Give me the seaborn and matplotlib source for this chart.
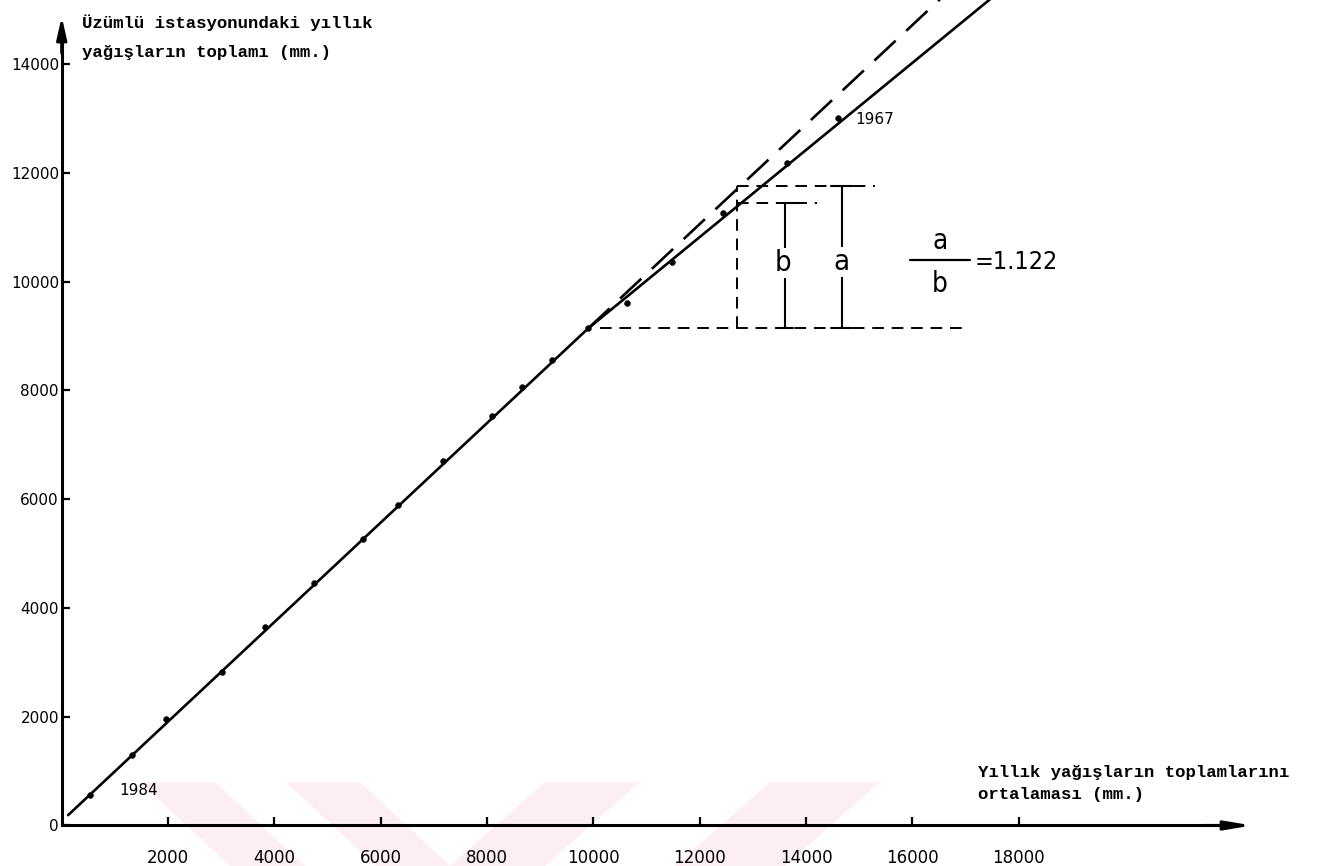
import matplotlib
matplotlib.use("Agg")
import matplotlib.pyplot as plt
import seaborn as sns
import pandas as pd
from matplotlib.patches import Polygon

# ---------------- data ----------------
years = list(range(1984, 1966, -1))  # 1984 ... 1967
x_mean_cum = [532, 1317, 1956, 3010, 3824, 4752, 5673, 6332, 7178, 8089,
              8653, 9217, 9906, 10634, 11475, 12445, 13638, 14609]
y_station_cum = [561, 1296, 1953, 2828, 3655, 4453, 5262, 5893, 6702, 7534,
                 8068, 8559, 9141, 9606, 10366, 11256, 12186, 13002]

# fitted lines (double-mass curve)
lower_x = [120, 9906]
lower_y = [190, 9141]
upper_x = [9906, 17600]
upper_y = [9141, 15300]
ext_x = [9906, 16640]
ext_y = [9141, 15300]

# construction for a/b
base_y = 9141
b_level = 11436
a_level = 11758
vert_x = 12698
base_x_range = [10130, 17030]
b_line_range = [12698, 14210]
a_line_range = [12698, 15300]
b_bar_x = 13606
a_bar_x = 14670
ratio_text = "=1.122"

xticks = [2000, 4000, 6000, 8000, 10000, 12000, 14000, 16000, 18000]
yticks = [0, 2000, 4000, 6000, 8000, 10000, 12000, 14000]

y_title = ["Üzümlü istasyonundaki yıllık", "yağışların toplamı (mm.)"]
x_title = ["Yıllık yağışların toplamlarını", "ortalaması (mm.)"]

# ---------------- figure ----------------
sns.set_theme(style="white")
plt.rcParams["font.family"] = ["DejaVu Sans"]
plt.rcParams["text.color"] = "black"

W, H = 1326, 866
fig = plt.figure(figsize=(W / 100, H / 100), dpi=100)
fig.patch.set_facecolor("white")
ax = fig.add_axes([0, 0, 1, 1])
ax.set_facecolor("white")

# very faint pink watermark stripes (figure pixel coords), behind everything
stripes = [
    [(140, 782), (215, 782), (305, 866), (230, 866)],
    [(286, 782), (360, 782), (450, 866), (376, 866)],
    [(545, 782), (640, 782), (545, 866), (450, 866)],
    [(770, 782), (880, 782), (785, 866), (675, 866)],
]
for s in stripes:
    pts = [(px / W, 1 - py / H) for px, py in s]
    ax.add_patch(Polygon(pts, closed=True, transform=fig.transFigure,
                         facecolor="#fdeef1", edgecolor="none", zorder=0))

df = pd.DataFrame({"x": x_mean_cum, "y": y_station_cum, "year": years})

# lines
sns.lineplot(x=lower_x, y=lower_y, ax=ax, color="black", lw=1.9, sort=False)
sns.lineplot(x=upper_x, y=upper_y, ax=ax, color="black", lw=1.9, sort=False)
sns.lineplot(x=ext_x, y=ext_y, ax=ax, color="black", lw=1.9, sort=False,
             linestyle=(0, (11, 5.5)))
sns.scatterplot(data=df, x="x", y="y", ax=ax, color="black", s=18,
                edgecolor="black", zorder=5)

# construction lines
dash = (0, (6, 4))
ax.plot(base_x_range, [base_y, base_y], color="black", lw=1.4, linestyle=dash)
ax.plot([vert_x, vert_x], [base_y, a_level], color="black", lw=1.4, linestyle=dash)
ax.plot(b_line_range, [b_level, b_level], color="black", lw=1.4, linestyle=dash)
ax.plot(a_line_range, [a_level, a_level], color="black", lw=1.4, linestyle=dash)

# b dimension bar
ax.plot([b_bar_x, b_bar_x], [base_y, b_level], color="black", lw=1.5)
ax.plot([b_bar_x, b_bar_x + 290], [b_level, b_level], color="black", lw=1.5)
ax.plot([b_bar_x - 150, b_bar_x + 150], [base_y, base_y], color="black", lw=1.5)
# a dimension bar
ax.plot([a_bar_x, a_bar_x], [base_y, a_level], color="black", lw=1.5)
ax.plot([a_bar_x - 190, a_bar_x + 210], [a_level, a_level], color="black", lw=1.5)
ax.plot([a_bar_x - 190, a_bar_x + 190], [base_y, base_y], color="black", lw=1.5)

narrow = dict(family=["DejaVu Sans"], fontstretch="condensed")
ax.text(b_bar_x - 40, 10342, "b", fontsize=21, ha="center", va="center",
        bbox=dict(facecolor="white", edgecolor="none", pad=1), **narrow)
ax.text(a_bar_x - 10, 10360, "a", fontsize=21, ha="center", va="center",
        bbox=dict(facecolor="white", edgecolor="none", pad=1), **narrow)
ax.text(16522, 10740, "a", fontsize=20, ha="center", va="center", **narrow)
ax.plot([15957, 17086], [10397, 10397], color="black", lw=1.6)
ax.text(16522, 9950, "b", fontsize=20, ha="center", va="center", **narrow)
ax.text(17180, 10360, ratio_text, fontsize=18, ha="left", va="center", **narrow)

ax.text(14923, 12985, "1967", fontsize=11, ha="left", va="center")
ax.text(1454, 652, "1984", fontsize=11, ha="center", va="center")

# axes
ax.set_xlim(-1161, 23783)
ax.set_ylim(-745, 15177)
for side in ["top", "right"]:
    ax.spines[side].set_visible(False)
ax.spines["left"].set_position(("data", 0))
ax.spines["bottom"].set_position(("data", 0))
ax.spines["left"].set_bounds(0, 14600)
ax.spines["bottom"].set_bounds(0, 22000)
for side in ["left", "bottom"]:
    ax.spines[side].set_linewidth(2.2)
    ax.spines[side].set_color("black")
ax.annotate("", xy=(0, 14870), xytext=(0, 14200),
            arrowprops=dict(arrowstyle="-|>,head_length=1.1,head_width=0.25",
                            lw=2.2, color="black", shrinkA=0, shrinkB=0))
ax.annotate("", xy=(22390, 0), xytext=(21500, 0),
            arrowprops=dict(arrowstyle="-|>,head_length=1.3,head_width=0.22",
                            lw=2.2, color="black", shrinkA=0, shrinkB=0))

ax.set_xticks(xticks)
ax.set_xticklabels([str(v) for v in xticks])
ax.set_yticks(yticks)
ax.set_yticklabels([str(v) for v in yticks])
ax.tick_params(axis="x", direction="in", length=6, width=1.6, pad=17,
               labelsize=12, colors="black", bottom=True)
ax.tick_params(axis="y", direction="in", length=6, width=1.6, pad=2,
               labelsize=11, colors="black", left=True)
ax.set_xlabel("")
ax.set_ylabel("")
ax.grid(False)

mono = ["Liberation Mono", "DejaVu Sans Mono"]
fig.text(82 / W, 1 - 23 / H, y_title[0], family=mono, weight="bold",
         fontsize=12.5, ha="left", va="center", color="black")
fig.text(82 / W, 1 - 52 / H, y_title[1], family=mono, weight="bold",
         fontsize=12.5, ha="left", va="center", color="black")
fig.text(978 / W, 1 - 773 / H, x_title[0], family=mono, weight="bold",
         fontsize=12.5, ha="left", va="center", color="black")
fig.text(978 / W, 1 - 795 / H, x_title[1], family=mono, weight="bold",
         fontsize=12.5, ha="left", va="center", color="black")

fig.savefig("out.png", dpi=100, facecolor="white")
